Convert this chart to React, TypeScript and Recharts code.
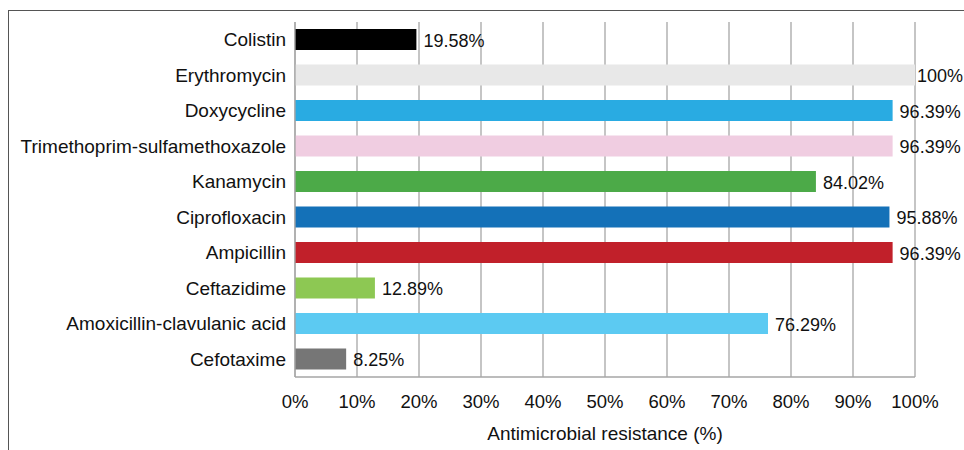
import { BarChart, Bar, XAxis, YAxis, CartesianGrid, Cell, LabelList } from 'recharts';

const drugs = [
  'Colistin',
  'Erythromycin',
  'Doxycycline',
  'Trimethoprim-sulfamethoxazole',
  'Kanamycin',
  'Ciprofloxacin',
  'Ampicillin',
  'Ceftazidime',
  'Amoxicillin-clavulanic acid',
  'Cefotaxime',
];

const resistance = [19.58, 100, 96.39, 96.39, 84.02, 95.88, 96.39, 12.89, 76.29, 8.25];

const xTicks = [0, 10, 20, 30, 40, 50, 60, 70, 80, 90, 100];

const palette = [
  '#000000',
  '#e8e8e8',
  '#29abe2',
  '#f0cde1',
  '#4caa48',
  '#1471b8',
  '#c1202a',
  '#8dc853',
  '#5ccaf2',
  '#767676',
];

const rows = drugs.map((name, i) => ({ name, value: resistance[i] }));

const FONT = '"Liberation Sans", Arial, sans-serif';
const FS = 18.5;
const LABEL_FS = 18;
const GRID = '#a6a6a6';

// rough Arial advance widths, in em
function textWidth(s: string, size: number) {
  let w = 0;
  for (const ch of s) w += ch === '%' ? 0.889 : ch === '.' ? 0.278 : 0.556;
  return w * size;
}

function ValueLabel(props: any) {
  const { x, y, width, height, value } = props;
  const txt = value === 100 ? '100%' : `${Number(value).toFixed(2)}%`;
  let tx = x + width + 7;
  const room = 963 - textWidth(txt, LABEL_FS);
  if (tx > room) tx = Math.max(x + width + 2, room);
  return (
    <text
      x={tx}
      y={y + height / 2 + 1}
      dominantBaseline="central"
      fill="#111"
      fontSize={LABEL_FS}
      fontFamily={FONT}
    >
      {txt}
    </text>
  );
}

export default function App() {
  return (
    <div
      style={{
        position: 'absolute',
        left: 0,
        top: 0,
        width: 964,
        height: 450,
        overflow: 'hidden',
        background: '#fff',
      }}
    >
      <div
        style={{
          position: 'absolute',
          left: 8,
          top: 10,
          width: 1000,
          height: 500,
          borderTop: '1.5px solid #555',
          borderLeft: '1.5px solid #555',
        }}
      />
      <div style={{ position: 'absolute', left: 0, top: 0 }}>
        <BarChart
          width={964}
          height={450}
          data={rows}
          layout="vertical"
          margin={{ top: 22, right: 49, bottom: 0, left: 0 }}
          barCategoryGap={0}
        >
          <CartesianGrid horizontal={false} stroke={GRID} strokeWidth={1.3} />
          <XAxis
            type="number"
            domain={[0, 100]}
            ticks={xTicks}
            interval={0}
            height={73}
            tickSize={0}
            tickMargin={18}
            axisLine={{ stroke: GRID, strokeWidth: 1.3 }}
            tick={{ fill: '#111', fontSize: FS, fontFamily: FONT }}
            tickFormatter={(v) => `${v}%`}
            label={{
              value: 'Antimicrobial resistance (%)',
              position: 'insideBottom',
              offset: 10,
              fill: '#111',
              fontSize: 19,
              fontFamily: FONT,
            }}
          />
          <YAxis
            type="category"
            dataKey="name"
            width={295}
            tickSize={0}
            tickMargin={9}
            interval={0}
            axisLine={{ stroke: GRID, strokeWidth: 1.3 }}
            tick={{ fill: '#111', fontSize: 19, fontFamily: FONT }}
          />
          <Bar dataKey="value" barSize={21} isAnimationActive={false}>
            {rows.map((r, i) => (
              <Cell key={r.name} fill={palette[i]} />
            ))}
            <LabelList dataKey="value" content={ValueLabel} />
          </Bar>
        </BarChart>
      </div>
    </div>
  );
}
